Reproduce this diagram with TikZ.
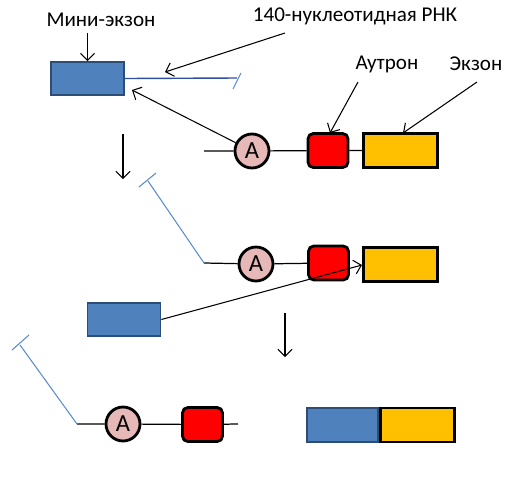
\documentclass[tikz,border=0pt]{standalone}
\usepackage{fontspec}
\setmainfont{Carlito}
\usetikzlibrary{arrows.meta,calc}

\definecolor{MiniColor}{HTML}{4F81BD}
\definecolor{MiniEdge}{HTML}{2C4D75}
\definecolor{RnaColor}{HTML}{2F4F9F}
\definecolor{TailColor}{HTML}{5B8BD0}
\definecolor{AColor}{HTML}{E6B9B8}
\definecolor{ExonColor}{HTML}{FFC000}

\tikzset{
  lbl/.style={font=\fontsize{12}{14}\selectfont, inner sep=0pt},
  minibox/.style={draw=MiniEdge, fill=MiniColor, line width=1pt,
    minimum width=1.46cm, minimum height=0.66cm, inner sep=0pt},
  abox/.style={circle, draw, fill=AColor, line width=1.6pt,
    minimum size=0.68cm, inner sep=0pt, font=\fontsize{14}{16}\selectfont},
  autronbox/.style={draw, fill=red, line width=1.6pt, rounded corners=3pt,
    minimum width=0.8cm, minimum height=0.68cm, inner sep=0pt},
  exonbox/.style={draw, fill=ExonColor, line width=1.6pt,
    minimum width=1.48cm, minimum height=0.68cm, inner sep=0pt},
  pointer/.style={-{Straight Barb[length=4pt,width=8pt]}, line width=0.6pt},
  strand/.style={line width=0.7pt},
  tail/.style={TailColor, line width=0.6pt},
}

\begin{document}
\begin{tikzpicture}[x=0.02cm, y=-0.02cm]
  \useasboundingbox (0,0) rectangle (518,478);

  %-- Подписи --
  \node[lbl] (miniText) at (101,20) {Мини-экзон};
  \node[lbl] (rnaText) at (355,16) {140-нуклеотидная РНК};
  \node[lbl] (autronText) at (387,64) {Аутрон};
  \node[lbl] (exonText) at (476,64) {Экзон};

  %-- Первый ряд --
  \node[minibox] (mini1) at (87.5,78.5) {};
  \node[abox] (a1) at (252,151) {A};
  \node[autronbox] (red1) at (328,150.5) {};
  \node[exonbox] (exon1) at (400.5,150.5) {};
  \coordinate (l1) at (204,151);
  \coordinate (t1) at (237,78);

  \draw[strand] (l1) -- (a1) -- (red1) -- (exon1);
  \draw[RnaColor, line width=0.8pt] (mini1.east) -- (t1);
  \draw[tail] (233,89) -- (241,73);

  \draw[pointer] (mini1.north |- miniText.south) ++(0,6) -- (mini1.north);
  \draw[pointer] (285,33) -- (165,72);
  \draw[pointer] (a1) -- (132,90);
  \draw[pointer] (358,82) -- (330,133);
  \draw[pointer] (477,82) -- (403,133);

  \draw[pointer] (123,134) -- (123,179);

  %-- Второй ряд --
  \node[abox] (a2) at (256,264) {A};
  \node[autronbox] (red2) at (328.5,263) {};
  \node[exonbox] (exon2) at (400.5,264.5) {};
  \node[minibox] (mini2) at (124,319.5) {};
  \coordinate (l2) at (204,263);
  \coordinate (t2) at (148,181);

  \draw[strand] (l2) -- (a2) -- (red2);
  \draw[tail] (l2) -- (t2);
  \draw[tail] (139,187) -- (156,173);
  \draw[pointer] (mini2.east) -- (362,265);

  \draw[pointer] (285,313) -- (285,357);

  %-- Третий ряд --
  \node[abox] (a3) at (123,424) {A};
  \node[autronbox] (red3) at (202.5,424.5) {};
  \node[minibox, minimum width=1.42cm, minimum height=0.68cm] (mini3) at (342.5,425) {};
  \node[exonbox, anchor=west] (exon3) at (mini3.east) {};
  \coordinate (l3) at (77,424);
  \coordinate (t3) at (20,345);
  \coordinate (r3) at (238,424);

  \draw[strand] (l3) -- (a3) -- (red3) -- (r3);
  \draw[tail] (l3) -- (t3);
  \draw[tail] (12,350) -- (29,335);

\end{tikzpicture}
\end{document}
